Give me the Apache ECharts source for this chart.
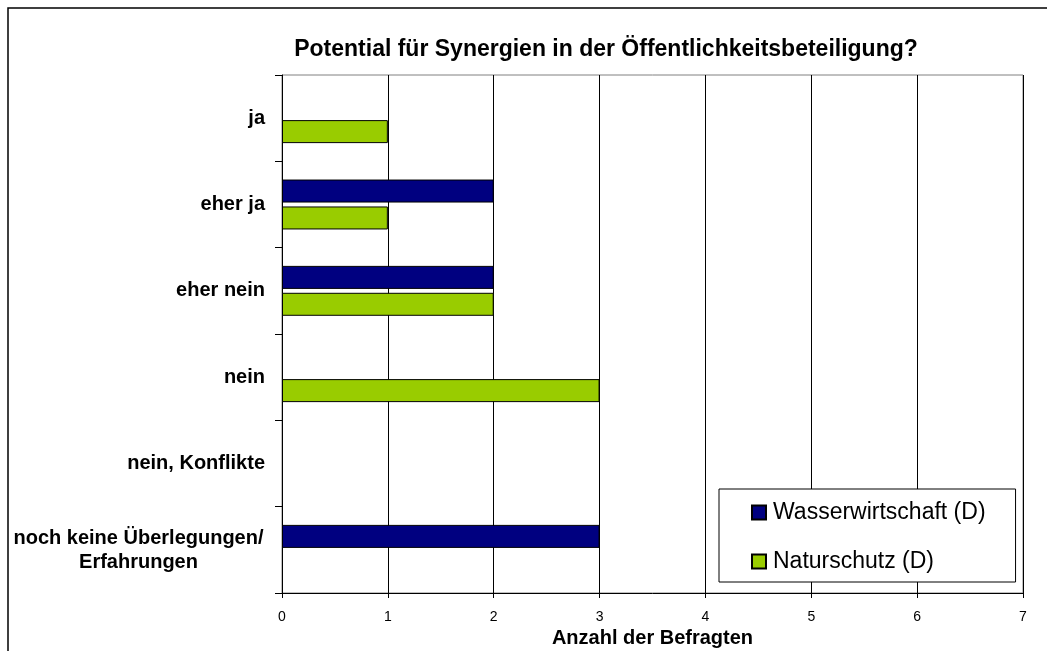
<!DOCTYPE html>
<html>
<head>
<meta charset="utf-8">
<script src="https://cdn.jsdelivr.net/npm/echarts@6/dist/echarts.min.js"></script>
<style>
  html, body { margin: 0; padding: 0; background: #fff; }
  #chart { width: 1047px; height: 651px; }
</style>
</head>
<body>
<div id="chart"></div>
<script>
var categories = ['ja', 'eher ja', 'eher nein', 'nein', 'nein, Konflikte', 'noch keine Überlegungen/\nErfahrungen'];
var wasser = [0, 2, 2, 0, 0, 3];
var natur = [1, 1, 2, 3, 0, 0];
var xTicks = [0, 1, 2, 3, 4, 5, 6, 7];

// Excel zeichnet bei 0 keinen Balken
function noZero(arr) {
    return arr.map(function (v) { return v === 0 ? '-' : v; });
}

var font = 'Arial, "Liberation Sans", sans-serif';
var myChart = echarts.init(document.getElementById('chart'));
var option = {
    animation: false,
    title: {
        text: 'Potential für Synergien in der Öffentlichkeitsbeteiligung?',
        left: 601,
        top: 33,
        textAlign: 'center',
        textStyle: { fontFamily: font, fontSize: 23, fontWeight: 'bold', color: '#000' }
    },
    graphic: [{
        type: 'rect',
        shape: { x: 8, y: 8, width: 1100, height: 700 },
        style: { fill: 'none', stroke: '#000', lineWidth: 1.5 },
        silent: true
    }],
    legend: {
        orient: 'vertical',
        left: 719,
        top: 489,
        padding: [12, 30, 9, 32],
        itemGap: 26,
        itemWidth: 14,
        itemHeight: 14,
        icon: 'rect',
        backgroundColor: '#fff',
        borderColor: '#000',
        borderWidth: 1,
        textStyle: { fontFamily: font, fontSize: 23, color: '#000', padding: [0, 0, 0, 2] },
        data: ['Wasserwirtschaft (D)', 'Naturschutz (D)']
    },
    grid: {
        left: 282, right: 24, top: 75, bottom: 58,
        outerBoundsMode: 'none',
        show: true,
        borderColor: '#808080',
        borderWidth: 1
    },
    xAxis: {
        type: 'value',
        min: xTicks[0],
        max: xTicks[xTicks.length - 1],
        interval: 1,
        name: 'Anzahl der Befragten',
        nameLocation: 'middle',
        nameGap: 28,
        nameTextStyle: { fontFamily: font, fontSize: 20, fontWeight: 'bold', color: '#000' },
        axisLine: { show: true, lineStyle: { color: '#000' } },
        axisTick: { show: true, length: 5, lineStyle: { color: '#000' } },
        axisLabel: { fontFamily: font, fontSize: 14, color: '#000', margin: 17 },
        splitLine: { show: true, lineStyle: { color: '#000', width: 1 } }
    },
    yAxis: {
        type: 'category',
        inverse: true,
        data: categories,
        axisLine: { show: true, lineStyle: { color: '#000' } },
        axisTick: { show: true, length: 7, lineStyle: { color: '#000' } },
        axisLabel: {
            fontFamily: font, fontSize: 20, fontWeight: 'bold', color: '#000', margin: 17,
            formatter: function (v) {
                if (v.indexOf('\n') >= 0) return '{c|' + v.split('\n').join('}\n{c|') + '}';
                return v;
            },
            rich: {
                c: { fontFamily: font, fontSize: 20, fontWeight: 'bold', color: '#000', width: 253, align: 'center', lineHeight: 24, padding: [2, 0, 0, 0] }
            }
        },
        splitLine: { show: false }
    },
    series: [
        {
            name: 'Wasserwirtschaft (D)',
            type: 'bar',
            barWidth: 23,
            barGap: '17%',
            itemStyle: { color: '#000080', borderColor: '#000', borderWidth: 1 },
            data: noZero(wasser)
        },
        {
            name: 'Naturschutz (D)',
            type: 'bar',
            barWidth: 23,
            barGap: '17%',
            itemStyle: { color: '#99CC00', borderColor: '#000', borderWidth: 1 },
            data: noZero(natur)
        }
    ]
};
myChart.setOption(option);
</script>
</body>
</html>
